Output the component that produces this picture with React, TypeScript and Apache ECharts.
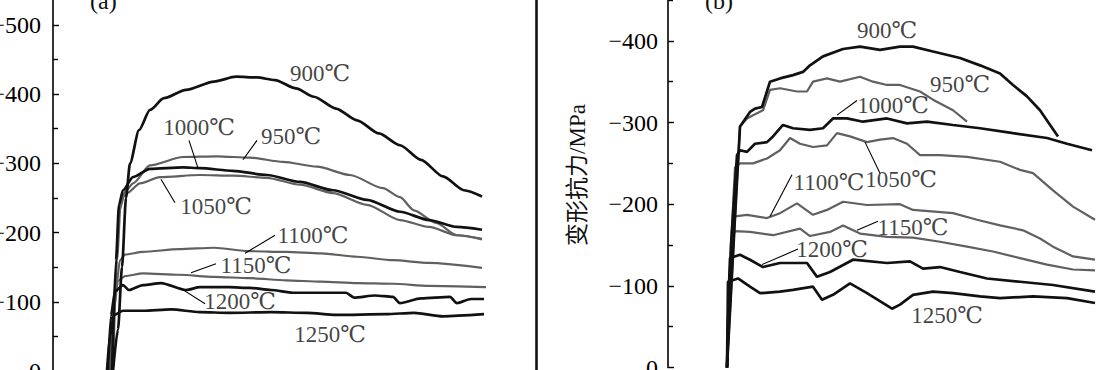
import { useEffect, useRef } from "react";
import * as echarts from "echarts";

type P = [number, number];

// ---------- panel (a) curves: [strain, stress MPa] ----------
const a900: P[] = [[0.120,0],[0.130,-60],[0.138,-150],[0.146,-250],[0.154,-300],[0.172,-348],[0.194,-377],[0.222,-394],[0.266,-406],[0.322,-418],[0.366,-425],[0.408,-424],[0.444,-420],[0.486,-408],[0.522,-396],[0.566,-379],[0.608,-362],[0.652,-343],[0.694,-326],[0.736,-305],[0.780,-281],[0.822,-261],[0.858,-252]];
const a950: P[] = [[0.120,0],[0.128,-160],[0.136,-250],[0.148,-262],[0.160,-271],[0.194,-297],[0.260,-309],[0.328,-310],[0.394,-308],[0.460,-302],[0.528,-295],[0.594,-283],[0.660,-264],[0.694,-251],[0.722,-232],[0.766,-214],[0.808,-196],[0.858,-190]];
const a1000: P[] = [[0.118,0],[0.126,-160],[0.132,-240],[0.140,-261],[0.160,-280],[0.194,-292],[0.260,-294],[0.294,-293],[0.360,-289],[0.428,-283],[0.494,-273],[0.560,-261],[0.628,-247],[0.694,-230],[0.752,-218],[0.808,-208],[0.858,-204]];
const a1050: P[] = [[0.118,0],[0.126,-150],[0.132,-230],[0.142,-252],[0.148,-257],[0.174,-271],[0.214,-280],[0.294,-283],[0.360,-282],[0.428,-279],[0.494,-269],[0.560,-257],[0.628,-240],[0.694,-218],[0.752,-208],[0.808,-196],[0.858,-191]];
const a1100: P[] = [[0.116,0],[0.126,-120],[0.134,-160],[0.144,-168],[0.180,-172],[0.252,-176],[0.322,-178],[0.394,-173],[0.466,-172],[0.536,-170],[0.608,-165],[0.680,-160],[0.752,-156],[0.858,-149]];
const a1150: P[] = [[0.114,0],[0.122,-90],[0.130,-130],[0.144,-137],[0.180,-141],[0.252,-139],[0.322,-136],[0.394,-134],[0.466,-131],[0.536,-129],[0.608,-127],[0.680,-126],[0.752,-123],[0.866,-121]];
const a1200: P[] = [[0.110,0],[0.116,-80],[0.124,-115],[0.140,-124],[0.152,-117],[0.180,-124],[0.216,-127],[0.266,-117],[0.294,-121],[0.352,-121],[0.394,-120],[0.436,-117],[0.480,-113],[0.536,-113],[0.586,-113],[0.602,-106],[0.644,-109],[0.680,-107],[0.694,-98],[0.736,-105],[0.794,-107],[0.808,-98],[0.836,-104],[0.862,-104]];
const a1250: P[] = [[0.108,0],[0.114,-50],[0.122,-81],[0.140,-87],[0.180,-87],[0.236,-89],[0.294,-85],[0.352,-84],[0.436,-85],[0.508,-84],[0.566,-81],[0.666,-82],[0.722,-84],[0.780,-79],[0.862,-82]];

// ---------- panel (b) curves ----------
const b900: P[] = [[0.118,0],[0.134,-184],[0.144,-295],[0.164,-313],[0.174,-317],[0.188,-319],[0.204,-350],[0.224,-354],[0.250,-358],[0.270,-362],[0.284,-370],[0.310,-381],[0.350,-390],[0.384,-393],[0.424,-389],[0.464,-393],[0.490,-393],[0.530,-387],[0.584,-379],[0.624,-370],[0.664,-360],[0.690,-346],[0.718,-332],[0.744,-315],[0.780,-283]];
const b950: P[] = [[0.118,0],[0.134,-184],[0.144,-295],[0.158,-305],[0.170,-309],[0.190,-315],[0.204,-340],[0.224,-342],[0.258,-338],[0.278,-338],[0.290,-350],[0.318,-354],[0.344,-350],[0.384,-356],[0.410,-350],[0.438,-346],[0.464,-346],[0.504,-338],[0.530,-328],[0.570,-315],[0.598,-301]];
const b1000: P[] = [[0.118,0],[0.126,-150],[0.138,-260],[0.144,-266],[0.158,-264],[0.174,-274],[0.198,-276],[0.210,-283],[0.230,-297],[0.250,-293],[0.284,-291],[0.310,-293],[0.330,-305],[0.358,-305],[0.390,-301],[0.438,-305],[0.478,-299],[0.518,-301],[0.570,-297],[0.624,-293],[0.690,-287],[0.758,-281],[0.798,-274],[0.848,-266]];
const b1050: P[] = [[0.118,0],[0.126,-150],[0.134,-245],[0.144,-250],[0.170,-250],[0.198,-256],[0.224,-266],[0.244,-281],[0.264,-274],[0.290,-270],[0.318,-272],[0.338,-287],[0.364,-283],[0.398,-276],[0.424,-279],[0.450,-281],[0.478,-274],[0.504,-260],[0.544,-260],[0.598,-258],[0.664,-252],[0.704,-242],[0.730,-238],[0.770,-217],[0.810,-197],[0.854,-181]];
const b1100: P[] = [[0.118,0],[0.124,-120],[0.130,-180],[0.134,-185],[0.158,-187],[0.198,-183],[0.224,-189],[0.258,-201],[0.290,-187],[0.318,-193],[0.350,-203],[0.398,-199],[0.464,-200],[0.490,-193],[0.570,-189],[0.618,-181],[0.664,-174],[0.710,-168],[0.744,-158],[0.770,-148],[0.810,-136],[0.854,-132]];
const b1150: P[] = [[0.118,0],[0.124,-120],[0.128,-160],[0.134,-167],[0.164,-166],[0.210,-162],[0.264,-170],[0.284,-161],[0.324,-166],[0.350,-174],[0.384,-164],[0.438,-160],[0.490,-159],[0.544,-154],[0.598,-148],[0.650,-142],[0.704,-134],[0.758,-126],[0.810,-120],[0.854,-119]];
const b1200: P[] = [[0.118,0],[0.122,-100],[0.124,-134],[0.144,-138],[0.164,-132],[0.190,-123],[0.224,-128],[0.278,-128],[0.298,-111],[0.324,-117],[0.370,-132],[0.438,-128],[0.484,-130],[0.510,-121],[0.544,-123],[0.584,-117],[0.638,-109],[0.704,-105],[0.770,-101],[0.854,-93]];
const b1250: P[] = [[0.118,0],[0.120,-105],[0.140,-109],[0.164,-99],[0.184,-91],[0.224,-93],[0.250,-95],[0.290,-99],[0.308,-83],[0.330,-89],[0.364,-103],[0.398,-91],[0.448,-72],[0.464,-77],[0.490,-89],[0.530,-93],[0.570,-91],[0.624,-87],[0.664,-85],[0.730,-87],[0.798,-85],[0.854,-79]];

// ---------- labels ----------
const tempNames = ["900℃", "950℃", "1000℃", "1050℃", "1100℃", "1150℃", "1200℃", "1250℃"];
const blackTemps = ["900℃", "1000℃", "1200℃", "1250℃"];
const curvesA: P[][] = [a900, a950, a1000, a1050, a1100, a1150, a1200, a1250];
const curvesB: P[][] = [b900, b950, b1000, b1050, b1100, b1150, b1200, b1250];

const labelPosA: P[] = [[0.534,-430],[0.476,-339],[0.292,-352],[0.326,-237],[0.520,-195],[0.406,-152],[0.374,-101],[0.554,-53]];
const labelPosB: P[] = [[0.438,-413],[0.584,-346],[0.450,-321],[0.466,-230],[0.322,-226],[0.490,-172],[0.328,-144],[0.558,-64]];

const leadersA: P[][] = [
  [[0.408,-333],[0.380,-305]],
  [[0.272,-333],[0.290,-293]],
  [[0.216,-277],[0.244,-243]],
  [[0.444,-196],[0.384,-170]],
  [[0.326,-155],[0.276,-142]],
  [[0.304,-97],[0.254,-120]],
];
const leadersB: P[][] = [
  [[0.378,-327],[0.338,-309]],
  [[0.424,-238],[0.394,-276]],
  [[0.248,-236],[0.204,-185]],
  [[0.420,-179],[0.378,-168]],
  [[0.260,-145],[0.188,-126]],
];

const yTicksInterval = 100;
const yLabel = "变形抗力/MPa";
const panelTags = ["(a)", "(b)"];

const FONT = "'Liberation Serif', 'DejaVu Serif', 'Noto Sans CJK SC', serif";
const GRAY = "#606060";

export default function App() {
  const ref = useRef<HTMLDivElement>(null);
  useEffect(() => {
    if (!ref.current) return;
    const chart = echarts.init(ref.current, undefined, { renderer: "svg" });
    const minusFmt = (v: number) => String(v).replace("-", "\u2212");

    const yBase = (gi: number, min: number, margin: number) => ({
      type: "value",
      gridIndex: gi,
      inverse: true,
      min,
      max: 0,
      interval: yTicksInterval,
      splitLine: { show: false },
      axisLine: { show: true, lineStyle: { color: "#000", width: 1.6 } },
      axisTick: { show: true, inside: true, length: 6, lineStyle: { color: "#000", width: 1.4 } },
      minorTick: { show: true, splitNumber: 2, length: 5, lineStyle: { color: "#000", width: 1.4 } },
      axisLabel: { show: true, color: "#000", fontSize: 24, fontFamily: FONT, margin, formatter: minusFmt },
    });

    const series: any[] = [];
    const addCurves = (curves: P[][], xi: number, yi: number, smooth: number | boolean) => {
      curves.forEach((d, i) => {
        const black = blackTemps.includes(tempNames[i]);
        series.push({
          type: "line",
          name: tempNames[i],
          xAxisIndex: xi,
          yAxisIndex: yi,
          data: d,
          symbol: "none",
          smooth,
          smoothMonotone: "x",
          lineStyle: { color: black ? "#111" : GRAY, width: black ? 2.7 : 2.2 },
          z: black ? 3 : 2,
        });
      });
    };
    addCurves(curvesA, 0, 0, 0.25);
    addCurves(curvesB, 1, 2, false);

    const addLeaders = (ls: P[][], xi: number, yi: number) => {
      ls.forEach((d) => {
        series.push({
          type: "line",
          xAxisIndex: xi,
          yAxisIndex: yi,
          data: d,
          symbol: "none",
          lineStyle: { color: "#000", width: 1.1 },
          z: 4,
        });
      });
    };
    addLeaders(leadersA, 0, 0);
    addLeaders(leadersB, 1, 2);

    const addLabels = (pos: P[], xi: number, yi: number) => {
      series.push({
        type: "scatter",
        xAxisIndex: xi,
        yAxisIndex: yi,
        symbolSize: 0,
        itemStyle: { color: "transparent" },
        data: pos.map((p, i) => ({ value: p, name: tempNames[i] })),
        label: {
          show: true,
          position: "inside",
          formatter: "{b}",
          color: "#111",
          fontSize: 23,
          fontFamily: FONT,
        },
        z: 5,
      });
    };
    addLabels(labelPosA, 0, 0);
    addLabels(labelPosB, 1, 2);

    chart.setOption({
      animation: false,
      backgroundColor: "#fff",
      grid: [
        { left: 53, right: 584, top: -44.5, bottom: -1, outerBoundsMode: "none", containLabel: false },
        { left: 668, right: -10, top: -40.8, bottom: 2.5, outerBoundsMode: "none", containLabel: false },
      ],
      xAxis: [
        { type: "value", gridIndex: 0, min: 0, max: 0.966, show: false },
        { type: "value", gridIndex: 1, min: 0, max: 0.924, show: false },
      ],
      yAxis: [
        yBase(0, -600, 12),
        {
          type: "value",
          gridIndex: 0,
          position: "right",
          inverse: true,
          min: -600,
          max: 0,
          interval: yTicksInterval,
          splitLine: { show: false },
          axisLine: { show: true, lineStyle: { color: "#111", width: 2.6 } },
          axisTick: { show: false },
          axisLabel: { show: false },
        },
        yBase(1, -500, 10),
      ],
      graphic: [
        {
          type: "text",
          x: 577,
          y: 175,
          rotation: Math.PI / 2,
          style: {
            text: yLabel,
            fontSize: 23,
            fontFamily: FONT,
            fill: "#111",
            align: "center",
            verticalAlign: "middle",
          },
        },
        {
          type: "text",
          x: 90,
          y: -11,
          style: { text: panelTags[0], fontSize: 24, fontFamily: FONT, fill: "#111" },
        },
        {
          type: "text",
          x: 705,
          y: -11,
          style: { text: panelTags[1], fontSize: 24, fontFamily: FONT, fill: "#111" },
        },
      ],
      series,
    });
    return () => chart.dispose();
  }, []);
  return (
    <div
      ref={ref}
      style={{ position: "absolute", left: 0, top: 0, width: 1120, height: 370, background: "#fff" }}
    />
  );
}
